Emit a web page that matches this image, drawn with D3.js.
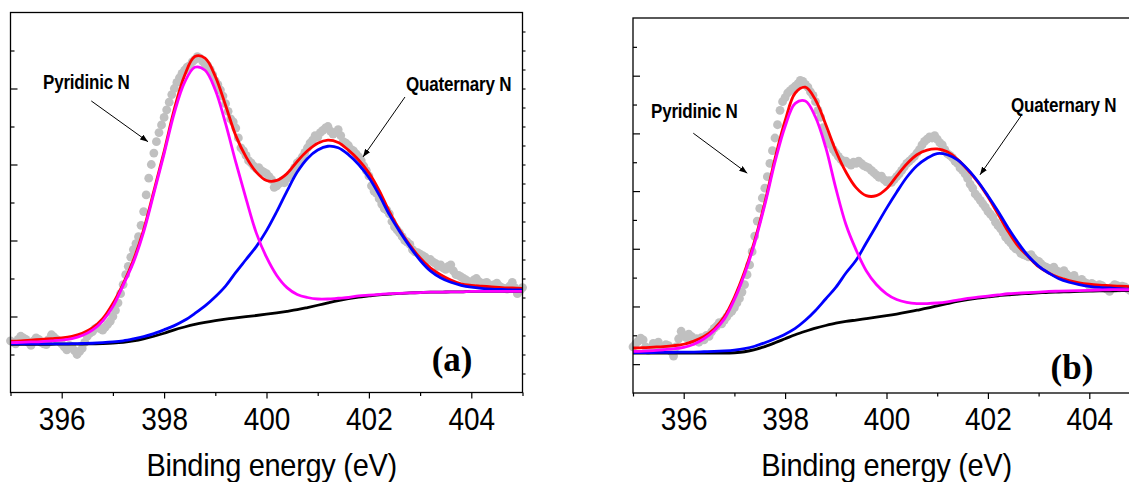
<!DOCTYPE html>
<html><head><meta charset="utf-8">
<script src="https://cdn.jsdelivr.net/npm/d3@7"></script>
<style>html,body{margin:0;padding:0;background:#fff;overflow:hidden}</style>
</head><body>
<svg id="chart" width="1129" height="482"></svg>
<script>
// ---------- data ----------
const xTickValues = [396, 398, 400, 402, 404];
const xTickLabels = ["396", "398", "400", "402", "404"];
const xMinorTicks = [395, 397, 399, 401, 403, 405];
const axisTitle = "Binding energy (eV)";
const peakLabels = ["Pyridinic N", "Quaternary N"];
const panelLabels = ["(a)", "(b)"];

const dataStartEnergy = 395, dataStepEnergy = 0.05;   // measured points grid
const curveStartEnergy = 395, curveStepEnergy = 0.2;  // fitted curves grid

// panel (a) measured intensity (a.u.)
const dataA = [
0.68,0.66,0.64,0.70,0.74,0.72,0.70,0.66,0.62,0.68,
0.72,0.70,0.66,0.64,0.63,0.70,0.76,0.73,0.70,0.67,
0.64,0.60,0.56,0.62,0.60,0.55,0.50,0.54,0.58,0.66,
0.74,0.78,0.80,0.84,0.86,0.84,0.82,0.86,0.90,0.94,
1.00,1.08,1.18,1.30,1.42,1.55,1.66,1.78,1.88,1.96,
2.05,2.20,2.38,2.60,2.82,3.00,3.15,3.30,3.42,3.52,
3.62,3.72,3.82,3.92,4.00,4.08,4.14,4.20,4.24,4.28,
4.30,4.35,4.38,4.42,4.40,4.36,4.32,4.30,4.25,4.18,
4.10,4.05,3.98,3.90,3.80,3.70,3.60,3.56,3.48,3.35,
3.22,3.18,3.12,3.05,3.02,2.98,2.95,2.96,2.92,2.90,
2.88,2.84,2.80,2.70,2.72,2.75,2.78,2.76,2.82,2.86,
2.90,2.96,3.02,3.05,3.10,3.16,3.22,3.28,3.32,3.38,
3.36,3.42,3.45,3.48,3.50,3.44,3.40,3.42,3.46,3.38,
3.30,3.28,3.25,3.20,3.18,3.14,3.10,3.05,2.98,2.92,
2.85,2.72,2.65,2.62,2.55,2.48,2.42,2.40,2.35,2.25,
2.18,2.14,2.10,2.05,2.00,1.98,1.95,1.88,1.85,1.84,
1.82,1.80,1.78,1.74,1.75,1.72,1.70,1.66,1.68,1.64,
1.62,1.66,1.68,1.60,1.55,1.54,1.52,1.50,1.48,1.46,
1.45,1.48,1.50,1.46,1.42,1.44,1.45,1.42,1.40,1.42,
1.44,1.40,1.38,1.37,1.36,1.40,1.45,1.38,1.30,1.34,
1.38];
// panel (a) fitted curves
const envelopeA = [0.675,0.68,0.69,0.70,0.71,0.72,0.74,0.78,0.85,0.97,
1.17,1.43,1.74,2.14,2.65,3.17,3.73,4.17,4.42,4.40,
4.16,3.78,3.38,3.10,2.90,2.79,2.79,2.88,3.04,3.18,
3.28,3.32,3.29,3.19,3.06,2.89,2.66,2.38,2.14,1.94,
1.77,1.64,1.55,1.48,1.43,1.41,1.40,1.39,1.38,1.375,1.37];
const pyridinicA = [0.655,0.66,0.665,0.67,0.68,0.69,0.71,0.75,0.82,0.94,
1.13,1.41,1.71,2.11,2.62,3.14,3.68,4.08,4.28,4.24,
3.98,3.54,3.03,2.55,2.10,1.78,1.54,1.38,1.29,1.25,
1.23,1.23,1.24,1.25,1.27,1.28,1.29,1.30,1.305,1.31,
1.315,1.32,1.32,1.325,1.325,1.33,1.33,1.33,1.33,1.33,1.33];
const quaternaryA = [0.64,0.64,0.64,0.64,0.64,0.64,0.642,0.645,0.648,0.655,
0.665,0.68,0.705,0.735,0.775,0.825,0.88,0.95,1.04,1.14,
1.26,1.40,1.58,1.75,1.92,2.13,2.38,2.65,2.90,3.08,
3.19,3.24,3.22,3.13,3.00,2.83,2.60,2.34,2.12,1.92,
1.74,1.60,1.51,1.45,1.41,1.385,1.37,1.36,1.355,1.35,1.35];
const backgroundA = [0.635,0.635,0.635,0.635,0.635,0.636,0.637,0.638,0.64,0.644,
0.65,0.66,0.678,0.705,0.74,0.78,0.825,0.862,0.895,0.922,
0.945,0.965,0.982,0.998,1.013,1.03,1.048,1.068,1.09,1.118,
1.148,1.18,1.21,1.235,1.255,1.27,1.285,1.295,1.305,1.31,
1.315,1.32,1.32,1.325,1.325,1.33,1.33,1.33,1.33,1.33,1.33];

// panel (b) measured intensity (a.u.)
const dataB = [
0.30,0.35,0.40,0.45,0.42,0.30,0.24,0.28,0.36,0.33,
0.38,0.30,0.26,0.34,0.32,0.22,0.14,0.30,0.44,0.57,
0.50,0.46,0.52,0.48,0.40,0.44,0.38,0.46,0.42,0.50,
0.48,0.56,0.62,0.66,0.72,0.70,0.76,0.82,0.88,0.92,
0.98,1.06,1.14,1.25,1.38,1.55,1.72,1.95,2.22,2.48,
2.70,2.88,3.05,3.25,3.48,3.70,3.92,4.15,4.40,4.55,
4.62,4.70,4.74,4.78,4.82,4.86,4.92,4.90,4.85,4.80,
4.72,4.66,4.55,4.40,4.28,4.10,3.98,3.88,3.80,3.72,
3.66,3.60,3.55,3.50,3.52,3.48,3.45,3.50,3.48,3.52,
3.48,3.44,3.42,3.40,3.36,3.32,3.28,3.24,3.26,3.20,
3.16,3.18,3.15,3.20,3.25,3.30,3.36,3.42,3.48,3.52,
3.56,3.60,3.66,3.72,3.80,3.86,3.90,3.94,3.92,3.96,
3.90,3.84,3.80,3.72,3.65,3.62,3.58,3.52,3.48,3.40,
3.36,3.30,3.22,3.12,3.05,2.95,2.90,2.84,2.78,2.72,
2.65,2.60,2.55,2.46,2.40,2.35,2.28,2.20,2.15,2.10,
2.04,2.00,1.98,1.92,1.90,1.88,1.86,1.90,1.84,1.80,
1.78,1.74,1.70,1.68,1.66,1.64,1.68,1.62,1.60,1.58,
1.62,1.56,1.52,1.50,1.54,1.46,1.44,1.47,1.42,1.40,
1.36,1.40,1.37,1.34,1.38,1.36,1.32,1.30,1.26,1.34,
1.38,1.36,1.32,1.35,1.34,1.31,1.28,1.33,1.36,1.30,
1.32];
// panel (b) fitted curves
const envelopeB = [0.28,0.285,0.295,0.305,0.32,0.345,0.40,0.48,0.61,0.82,
1.16,1.60,2.14,2.80,3.56,4.22,4.70,4.80,4.58,4.16,
3.70,3.33,3.06,2.92,2.92,3.04,3.26,3.47,3.63,3.71,
3.73,3.68,3.55,3.37,3.16,2.90,2.60,2.30,2.04,1.86,
1.69,1.58,1.50,1.45,1.41,1.385,1.37,1.36,1.35,1.345,1.34];
const pyridinicB = [0.22,0.225,0.235,0.25,0.265,0.29,0.345,0.44,0.58,0.78,
1.12,1.56,2.10,2.76,3.50,4.12,4.52,4.56,4.28,3.76,
3.05,2.42,1.98,1.62,1.38,1.22,1.12,1.07,1.05,1.05,
1.06,1.08,1.11,1.14,1.16,1.18,1.20,1.22,1.23,1.24,
1.25,1.26,1.265,1.27,1.275,1.28,1.285,1.29,1.29,1.29,1.29];
const quaternaryB = [0.20,0.20,0.20,0.205,0.205,0.21,0.21,0.215,0.22,0.23,
0.245,0.27,0.31,0.37,0.44,0.52,0.62,0.76,0.93,1.13,
1.33,1.58,1.80,2.10,2.40,2.70,2.98,3.24,3.44,3.57,
3.65,3.63,3.54,3.38,3.17,2.92,2.65,2.36,2.10,1.87,
1.70,1.58,1.48,1.42,1.38,1.35,1.33,1.32,1.31,1.30,1.30];
const backgroundB = [0.19,0.19,0.19,0.19,0.19,0.19,0.19,0.19,0.19,0.19,
0.198,0.215,0.25,0.305,0.37,0.44,0.51,0.57,0.625,0.67,
0.71,0.74,0.765,0.79,0.815,0.84,0.868,0.90,0.935,0.97,
1.01,1.05,1.09,1.12,1.145,1.165,1.185,1.20,1.215,1.225,
1.235,1.245,1.25,1.255,1.26,1.265,1.27,1.27,1.275,1.275,1.275];

// ---------- drawing ----------
const svg = d3.select("#chart");
const defs = svg.append("defs");
defs.append("marker").attr("id", "arrow")
  .attr("viewBox", "0 0 8 6").attr("refX", 8).attr("refY", 3)
  .attr("markerWidth", 8).attr("markerHeight", 6)
  .attr("markerUnits", "userSpaceOnUse").attr("orient", "auto")
  .append("path").attr("d", "M0,0 L8,3 L0,6 Z").attr("fill", "#000");

const FONT = "'Liberation Sans', Arial, Helvetica, sans-serif";

function drawPanel(p) {
  const x = d3.scaleLinear().domain([395, 405]).range(p.xRange);
  const y = d3.scaleLinear().domain(p.yDomain).range(p.yRange);
  const g = svg.append("g");
  const x0 = p.xRange[0], x1 = p.xRange[1], yb = p.yRange[0], yt = p.yRange[1];

  // measured points
  g.append("g").selectAll("circle").data(p.data).join("circle")
    .attr("cx", (d, i) => x(dataStartEnergy + i * dataStepEnergy))
    .attr("cy", d => y(d)).attr("r", 4.4).attr("fill", "#c0c0c0");

  // fitted curves
  const line = d3.line()
    .x((d, i) => x(curveStartEnergy + i * curveStepEnergy))
    .y(d => y(d)).curve(d3.curveCatmullRom.alpha(0.5));
  const curves = [
    [p.background, "#000000"],
    [p.envelope, "#ff0000"],
    [p.quaternary, "#0000ff"],
    [p.pyridinic, "#ff00ff"]
  ];
  curves.forEach(([arr, col]) => {
    g.append("path").datum(arr).attr("d", line)
      .attr("fill", "none").attr("stroke", col).attr("stroke-width", 2.8)
      .attr("stroke-linejoin", "round");
  });

  // frame
  g.append("rect").attr("x", x0).attr("y", yt).attr("width", x1 - x0).attr("height", yb - yt)
    .attr("fill", "none").attr("stroke", "#000").attr("stroke-width", 1.3);

  // bottom axis (ticks outward)
  const axB = g.append("g").attr("transform", `translate(0,${yb})`)
    .call(d3.axisBottom(x).tickValues(xTickValues).tickSize(6)
      .tickFormat((d, i) => xTickLabels[i]));
  axB.select(".domain").remove();
  axB.selectAll("line").attr("stroke-width", 1.2);
  axB.selectAll("text").attr("y", 0).attr("dy", 0)
    .attr("transform", "translate(0,37) scale(1,1.14)")
    .attr("font-family", FONT).attr("font-size", 28).attr("fill", "#000");
  const axBm = g.append("g").attr("transform", `translate(0,${yb})`)
    .call(d3.axisBottom(x).tickValues(xMinorTicks).tickSize(3.5).tickFormat(""));
  axBm.select(".domain").remove();
  axBm.selectAll("line").attr("stroke-width", 1.2);

  // left axis (ticks inward)
  const axL = g.append("g").attr("transform", `translate(${x0},0)`)
    .call(d3.axisRight(y).tickValues(p.yMajor).tickSize(7).tickFormat(""));
  axL.select(".domain").remove();
  axL.selectAll("line").attr("stroke-width", 1.2);
  const axLm = g.append("g").attr("transform", `translate(${x0},0)`)
    .call(d3.axisRight(y).tickValues(p.yMinor).tickSize(4).tickFormat(""));
  axLm.select(".domain").remove();
  axLm.selectAll("line").attr("stroke-width", 1.2);

  // right axis small outward ticks
  if (p.yRightTicks) {
    const axR = g.append("g").attr("transform", `translate(${x1},0)`)
      .call(d3.axisRight(y).tickValues(p.yRightTicks).tickSize(3).tickFormat(""));
    axR.select(".domain").remove();
    axR.selectAll("line").attr("stroke-width", 1.1);
  }

  // axis title
  g.append("text").attr("transform", `translate(${x(p.titleE)},476) scale(1,1.1)`)
    .attr("text-anchor", "middle").attr("font-family", FONT).attr("font-size", 29)
    .attr("letter-spacing", "-0.3").attr("fill", "#000").text(axisTitle);

  // peak labels & arrows
  p.notes.forEach((n, i) => {
    g.append("text").attr("transform", `translate(${x(n.lx)},${y(n.ly)}) scale(1,1.22)`)
      .attr("font-family", FONT).attr("font-weight", "bold").attr("font-size", 17)
      .attr("letter-spacing", "-0.2").attr("fill", "#000").text(peakLabels[i]);
    g.append("line").attr("x1", x(n.ax1)).attr("y1", y(n.ay1))
      .attr("x2", x(n.ax2)).attr("y2", y(n.ay2))
      .attr("stroke", "#000").attr("stroke-width", 1).attr("marker-end", "url(#arrow)");
  });

  // panel label
  g.append("text").attr("transform", `translate(${x(p.tagE)},${y(p.tagV)}) scale(1,1.05)`)
    .attr("font-family", "'Liberation Serif', 'Times New Roman', serif")
    .attr("font-weight", "bold").attr("font-size", 35).attr("fill", "#000").text(p.tag);
}

drawPanel({
  xRange: [10.5, 522.5], yDomain: [0, 5], yRange: [392.5, 12.5],
  yMajor: [1, 2, 3, 4], yMinor: [0.5, 1.5, 2.5, 3.5, 4.5],
  yRightTicks: d3.range(1, 20).map(k => k * 0.25),
  data: dataA, envelope: envelopeA, pyridinic: pyridinicA,
  quaternary: quaternaryA, background: backgroundA,
  titleE: 400.1,
  notes: [
    { lx: 395.635, ly: 3.99, ax1: 396.578, ay1: 3.836, ax2: 397.686, ay2: 3.30 },
    { lx: 402.725, ly: 3.97, ax1: 402.705, ay1: 3.888, ax2: 401.885, ay2: 3.099 }
  ],
  tag: panelLabels[0], tagE: 403.226, tagV: 0.283
});

drawPanel({
  xRange: [633, 1140], yDomain: [-0.5, 6], yRange: [393, 18],
  yMajor: [0, 1, 2, 3, 4, 5], yMinor: [0.5, 1.5, 2.5, 3.5, 4.5, 5.5],
  yRightTicks: null,
  data: dataB, envelope: envelopeB, pyridinic: pyridinicB,
  quaternary: quaternaryB, background: backgroundB,
  titleE: 400.0,
  notes: [
    { lx: 395.355, ly: 4.274, ax1: 396.189, ay1: 4.003, ax2: 397.254, ay2: 3.31 },
    { lx: 402.456, ly: 4.378, ax1: 402.653, ay1: 4.303, ax2: 401.844, ay2: 3.281 }
  ],
  tag: panelLabels[1], tagE: 403.237, tagV: -0.255
});
</script>
</body></html>
